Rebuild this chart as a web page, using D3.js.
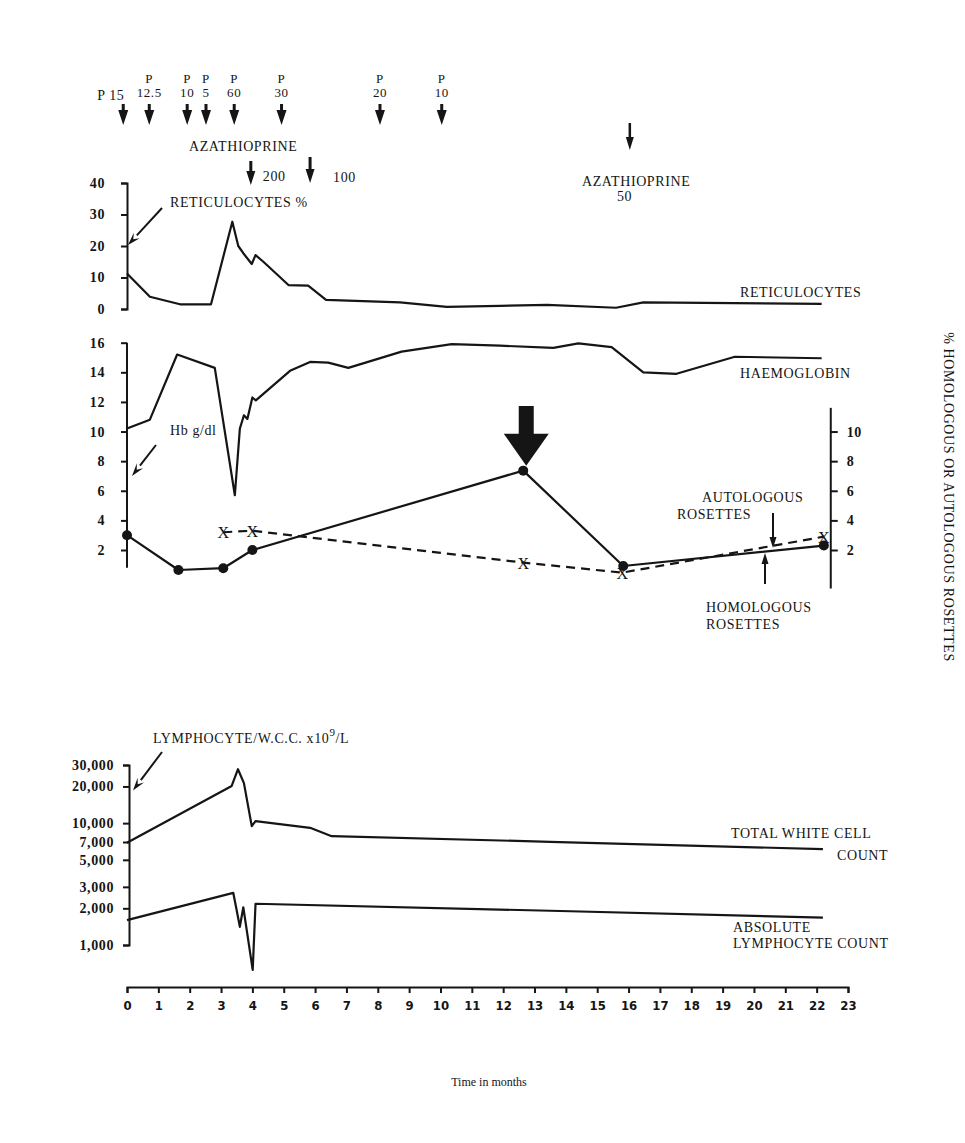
<!DOCTYPE html>
<html><head><meta charset="utf-8">
<script src="https://cdn.jsdelivr.net/npm/d3@7"></script>
<style>
body{margin:0;background:#fff;}
svg{display:block;}
text{font-family:"Liberation Serif","DejaVu Serif",serif;fill:#151515;}
.lbl{font-size:14px;letter-spacing:0.6px;}
.tk text{font-size:14px;font-weight:bold;letter-spacing:0.6px;}
.xt text{font-family:"DejaVu Sans Condensed","Liberation Sans Narrow",sans-serif;font-stretch:condensed;font-size:13px;font-weight:bold;}
</style></head><body>
<svg id="c" width="965" height="1143"></svg>
<script>
// ---------- DATA ----------
const months = d3.range(0, 24);

const retMonths = [0, 0.73, 1.69, 2.68, 3.36, 3.55, 3.71, 3.98, 4.1, 4.35, 5.15, 5.78, 6.35, 8.71, 10.2, 11.9, 13.4, 15.6, 16.47, 22.16];
const retValues = [11.3, 3.9, 1.5, 1.5, 27.7, 20, 17.7, 14.3, 17.1, 15, 7.6, 7.4, 2.9, 2.1, 0.7, 1.0, 1.3, 0.4, 2.1, 1.6];

const hbMonths = [0, 0.73, 1.6, 2.8, 3.44, 3.6, 3.73, 3.84, 4.0, 4.11, 5.2, 5.84, 6.42, 7.06, 8.76, 10.36, 11.9, 13.6, 14.4, 15.46, 16.47, 17.53, 19.39, 22.16];
const hbValues = [10.2, 10.8, 15.2, 14.3, 5.7, 10.2, 11.1, 10.85, 12.3, 12.1, 14.1, 14.7, 14.65, 14.3, 15.4, 15.9, 15.8, 15.65, 15.95, 15.7, 14.0, 13.9, 15.05, 14.95];

const homMonths = [0, 1.64, 3.07, 4.0, 12.64, 15.83, 22.23];
const homValues = [3.0, 0.65, 0.77, 2.0, 7.36, 0.92, 2.3];

const autoMonths = [3.07, 4.0, 12.64, 15.8, 22.23];
const autoValues = [3.2, 3.3, 1.15, 0.47, 2.9];

const wccMonths = [0, 3.34, 3.54, 3.73, 3.98, 4.1, 5.84, 6.53, 13.5, 22.2];
const wccValues = [6900, 20200, 27700, 21300, 9450, 10400, 9150, 7820, 7030, 6120];

const lymMonths = [0, 3.39, 3.6, 3.71, 4.01, 4.1, 13.5, 22.2];
const lymValues = [1600, 2680, 1410, 2040, 624, 2180, 1910, 1675];

const retTicks = [0, 10, 20, 30, 40];
const hbTicks = [2, 4, 6, 8, 10, 12, 14, 16];
const rosTicks = [2, 4, 6, 8, 10];
const lymTicks = [1000, 2000, 3000, 5000, 7000, 10000, 20000, 30000];

// prednisolone doses and azathioprine doses
const predMonths = [-0.12, 0.71, 1.92, 2.52, 3.42, 4.93, 8.07, 10.04];
const predDoses = ["15", "12.5", "10", "5", "60", "30", "20", "10"];
const azaMonths = [3.95, 5.84, 16.04];
const azaDoses = ["200", "100", "50"];

// ---------- DRAW ----------
const svg = d3.select('#c');
const ink = '#151515';
const x = d3.scaleLinear().domain([0, 23]).range([127, 848]);
const yRet = d3.scaleLinear().domain([0, 40]).range([309, 183]);
const yHb = d3.scaleLinear().domain([2, 16]).range([550, 342.7]);
const yLym = d3.scaleLog().domain([1000, 30000]).range([945, 765]);

function styleAxis(g) {
  g.attr('class', 'tk');
  g.selectAll('path,line').attr('stroke', ink).attr('stroke-width', 2);
}

// reticulocyte axis
svg.append('g').attr('transform', `translate(${x(0)},0)`)
  .call(d3.axisLeft(yRet).tickValues(retTicks).tickSize(6).tickSizeOuter(6).tickPadding(16))
  .call(styleAxis);

// haemoglobin axis
const gHb = svg.append('g').attr('transform', `translate(${x(0)},0)`)
  .call(d3.axisLeft(yHb).tickValues(hbTicks).tickSize(6).tickSizeOuter(0).tickPadding(16))
  .call(styleAxis);
gHb.select('.domain').remove();
gHb.append('line').attr('x1', 0).attr('x2', 0).attr('y1', yHb(16)).attr('y2', yHb(0.8))
  .attr('stroke', ink).attr('stroke-width', 2);

// rosette right axis
const gR = svg.append('g').attr('transform', `translate(${x(22.45)},0)`)
  .call(d3.axisRight(yHb).tickValues(rosTicks).tickSize(7).tickSizeOuter(0).tickPadding(9))
  .call(styleAxis);
gR.select('.domain').remove();
gR.append('line').attr('x1', 0).attr('x2', 0).attr('y1', yHb(11.6)).attr('y2', yHb(-0.6))
  .attr('stroke', ink).attr('stroke-width', 2);

// lymphocyte axis
svg.append('g').attr('transform', `translate(${x(0) + 2},0)`)
  .call(d3.axisLeft(yLym).tickValues(lymTicks).tickFormat(d3.format(',')).tickSize(6).tickSizeOuter(6).tickPadding(9))
  .call(styleAxis);

// x axis
const gx = svg.append('g').attr('class', 'xt').attr('transform', 'translate(0,987)')
  .call(d3.axisBottom(x).tickValues(months).tickSize(6).tickSizeOuter(6).tickPadding(8).tickFormat(d3.format('d')));
gx.selectAll('path,line').attr('stroke', ink).attr('stroke-width', 2);

svg.append('text').attr('x', 489).attr('y', 1086).attr('text-anchor', 'middle')
  .style('font-size', '12px').text('Time in months');

// lines
const line = d3.line().curve(d3.curveLinear);
function drawLine(mx, vals, ys, dash) {
  const pts = mx.map((m, i) => [x(m), ys(vals[i])]);
  svg.append('path').attr('d', line(pts)).attr('fill', 'none').attr('stroke', ink)
    .attr('stroke-width', 2.2).attr('stroke-linejoin', 'round')
    .attr('stroke-dasharray', dash || null);
  return pts;
}
drawLine(retMonths, retValues, yRet);
drawLine(hbMonths, hbValues, yHb);
const homPts = drawLine(homMonths, homValues, yHb);
const autoPts = drawLine(autoMonths, autoValues, yHb, '9,6');
drawLine(wccMonths, wccValues, yLym);
drawLine(lymMonths, lymValues, yLym);

svg.selectAll('circle.hom').data(homPts).enter().append('circle')
  .attr('cx', d => d[0]).attr('cy', d => d[1]).attr('r', 5).attr('fill', ink);
svg.selectAll('text.auto').data(autoPts).enter().append('text')
  .attr('x', d => d[0]).attr('y', d => d[1] + 6).attr('text-anchor', 'middle')
  .style('font-size', '16px').text('X');

// arrows
function downArrow(cx, top, bottom, shaftW, headW, headLen) {
  const hs = shaftW / 2, hh = headW / 2, hy = bottom - headLen;
  svg.append('path').attr('fill', ink)
    .attr('d', `M${cx - hs},${top}L${cx + hs},${top}L${cx + hs},${hy}L${cx + hh},${hy}L${cx},${bottom}L${cx - hh},${hy}L${cx - hs},${hy}Z`);
}
function upArrow(cx, top, bottom, shaftW, headW, headLen) {
  const hs = shaftW / 2, hh = headW / 2, hy = top + headLen;
  svg.append('path').attr('fill', ink)
    .attr('d', `M${cx - hs},${bottom}L${cx + hs},${bottom}L${cx + hs},${hy}L${cx + hh},${hy}L${cx},${top}L${cx - hh},${hy}L${cx - hs},${hy}Z`);
}
function diagArrow(x1, y1, x2, y2) {
  const a = Math.atan2(y2 - y1, x2 - x1), L = 13, W = 4;
  const bx = x2 - L * Math.cos(a), by = y2 - L * Math.sin(a);
  svg.append('line').attr('x1', x1).attr('y1', y1).attr('x2', bx).attr('y2', by)
    .attr('stroke', ink).attr('stroke-width', 2);
  const px = -Math.sin(a) * W, py = Math.cos(a) * W;
  svg.append('path').attr('fill', ink)
    .attr('d', `M${x2},${y2}L${bx + px},${by + py}L${bx + 0.4 * L * Math.cos(a)},${by + 0.4 * L * Math.sin(a)}L${bx - px},${by - py}Z`);
}

// prednisolone arrows and labels
predMonths.forEach((m, i) => {
  downArrow(x(m), 104, 125, 3, 10, 15);
  if (i === 0) {
    svg.append('text').attr('class', 'lbl').attr('x', x(m) - 26).attr('y', 100).text('P ' + predDoses[i]);
  } else {
    svg.append('text').attr('class', 'lbl').attr('x', x(m)).attr('y', 83).attr('text-anchor', 'middle').style('font-size', '13px').text('P');
    svg.append('text').attr('class', 'lbl').attr('x', x(m)).attr('y', 97).attr('text-anchor', 'middle').style('font-size', '13px').text(predDoses[i]);
  }
});

// azathioprine
svg.append('text').attr('class', 'lbl').attr('x', 189).attr('y', 151).text('AZATHIOPRINE');
downArrow(x(azaMonths[0]), 161, 185, 3, 9, 14);
downArrow(x(azaMonths[1]), 157, 183, 3, 9, 14);
svg.append('text').attr('class', 'lbl').attr('x', x(azaMonths[0]) + 12).attr('y', 181).text(azaDoses[0]);
svg.append('text').attr('class', 'lbl').attr('x', x(azaMonths[1]) + 23).attr('y', 182).text(azaDoses[1]);
downArrow(x(azaMonths[2]), 123, 150, 2.5, 8, 13);
svg.append('text').attr('class', 'lbl').attr('x', 582).attr('y', 186).text('AZATHIOPRINE');
svg.append('text').attr('class', 'lbl').attr('x', 617).attr('y', 201).text(azaDoses[2]);

// labels
svg.append('text').attr('class', 'lbl').attr('x', 170).attr('y', 207).text('RETICULOCYTES %');
diagArrow(162, 208, x(0) + 1, yRet(20) - 1);
svg.append('text').attr('class', 'lbl').attr('x', 740).attr('y', 297).text('RETICULOCYTES');
svg.append('text').attr('class', 'lbl').attr('x', 740).attr('y', 378).text('HAEMOGLOBIN');
svg.append('text').attr('class', 'lbl').attr('x', 170).attr('y', 435).text('Hb g/dl');
diagArrow(156, 445, x(0) + 5, yHb(7));

// big arrow
const bp = homPts[4];
downArrow(bp[0] + 3, 406, bp[1] - 5, 15, 45, 32);

svg.append('text').attr('class', 'lbl').attr('x', 702).attr('y', 502).text('AUTOLOGOUS');
svg.append('text').attr('class', 'lbl').attr('x', 677).attr('y', 519).text('ROSETTES');
downArrow(773, 513, 548, 2, 7, 11);
upArrow(765, 553, 584, 2, 7, 11);
svg.append('text').attr('class', 'lbl').attr('x', 706).attr('y', 612).text('HOMOLOGOUS');
svg.append('text').attr('class', 'lbl').attr('x', 706).attr('y', 629).text('ROSETTES');

svg.append('text').attr('class', 'lbl').attr('transform', 'translate(944,497) rotate(90)')
  .attr('text-anchor', 'middle').text('% HOMOLOGOUS OR AUTOLOGOUS ROSETTES');

// lymphocyte panel labels
const lt = svg.append('text').attr('class', 'lbl').attr('x', 153).attr('y', 743);
lt.append('tspan').text('LYMPHOCYTE/W.C.C. x10');
lt.append('tspan').attr('dy', -7).style('font-size', '11px').text('9');
lt.append('tspan').attr('dy', 7).text('/L');
diagArrow(162, 752, x(0) + 6, yLym(20000) + 4);

svg.append('text').attr('class', 'lbl').attr('x', 731).attr('y', 838).text('TOTAL WHITE CELL');
svg.append('text').attr('class', 'lbl').attr('x', 837).attr('y', 860).text('COUNT');
svg.append('text').attr('class', 'lbl').attr('x', 733).attr('y', 932).text('ABSOLUTE');
svg.append('text').attr('class', 'lbl').attr('x', 733).attr('y', 948).text('LYMPHOCYTE COUNT');
</script>
</body></html>
